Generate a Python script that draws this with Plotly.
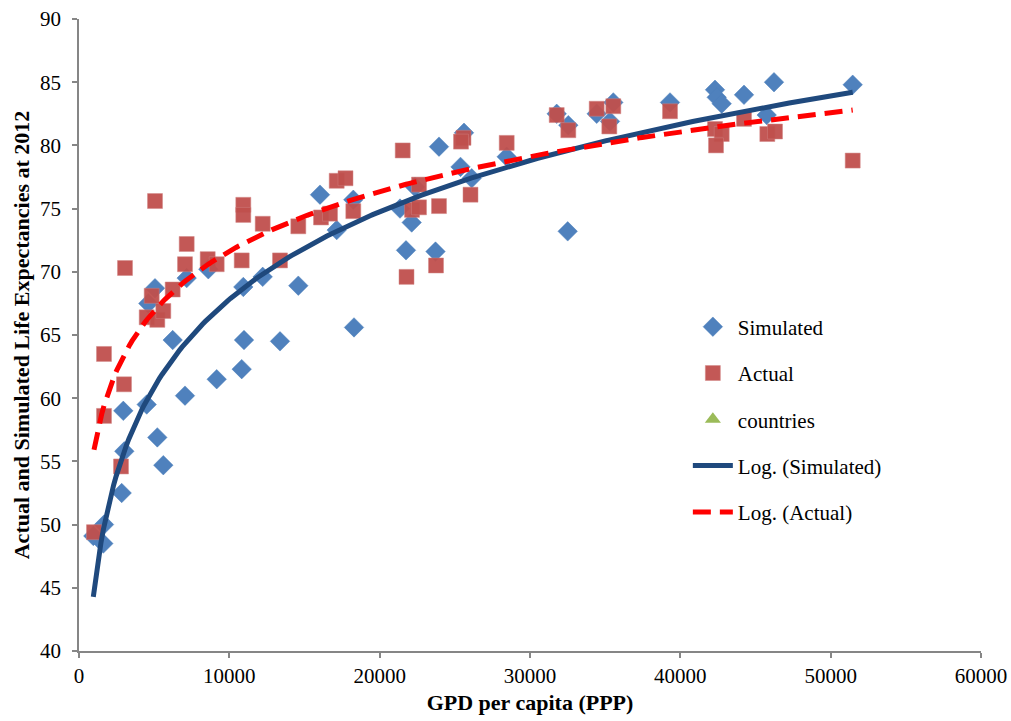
import numpy as np
import plotly.graph_objects as go

# ---- data ----
sim_gdp = [951, 1616, 1663, 2840, 3013, 2947, 4503, 5209, 5608, 7051, 9160, 10823, 10976,
           13371, 18293, 4610, 5056, 6233, 7164, 8601, 10929, 12220, 14588, 16031, 17142,
           18246, 21353, 22131, 22351, 21752, 23714, 23947, 25610, 25377, 26122, 28451,
           32508, 31777, 32548, 34437, 35542, 35322, 39313, 42307, 42420, 42752, 44236,
           46231, 45746, 51466]
sim_le = [49.1, 48.5, 50.0, 52.5, 55.8, 59.0, 59.5, 56.9, 54.7, 60.2, 61.5, 62.3, 64.6,
          64.5, 65.6, 67.5, 68.7, 64.6, 69.5, 70.2, 68.8, 69.6, 68.9, 76.1, 73.3,
          75.7, 75.0, 73.9, 76.7, 71.7, 71.6, 79.9, 81.0, 78.3, 77.4, 79.1,
          73.2, 82.5, 81.6, 82.5, 83.4, 81.9, 83.4, 84.4, 83.8, 83.3, 84.0,
          85.0, 82.4, 84.8]

act_gdp = [998, 1663, 2993, 1663, 2794, 3060, 4836, 4503, 5209, 5608, 6233, 5056, 7164,
           7051, 8561, 9160, 10929, 10929, 10823, 12220, 13371, 14588, 16098, 16697,
           17142, 17728, 18246, 21533, 22617, 22151, 22617, 23947, 21785, 23748, 26043,
           25577, 25411, 28451, 31777, 32548, 34437, 35542, 35276, 39313, 42307, 42752,
           42373, 44236, 45786, 46298, 51466]
act_le = [49.4, 63.5, 61.1, 58.6, 54.6, 70.3, 68.1, 66.4, 66.2, 66.9, 68.6, 75.6, 72.2,
          70.6, 71.0, 70.6, 75.3, 74.5, 70.9, 73.8, 70.9, 73.6, 74.3, 74.6,
          77.2, 77.4, 74.8, 79.6, 76.9, 74.9, 75.1, 75.2, 69.6, 70.5, 76.1,
          80.6, 80.3, 80.2, 82.4, 81.2, 82.9, 83.1, 81.5, 82.7, 81.3, 80.9,
          80.0, 82.1, 80.9, 81.1, 78.8]

x_ticks = [0, 10000, 20000, 30000, 40000, 50000, 60000]
y_ticks = [40, 45, 50, 55, 60, 65, 70, 75, 80, 85, 90]

FONT = "Liberation Serif"


def log_trend(xs, ys):
    xs = np.asarray(xs, float)
    ys = np.asarray(ys, float)
    a, b = np.polyfit(np.log(xs), ys, 1)
    xx = np.linspace(xs.min(), xs.max(), 300)
    return xx, a * np.log(xx) + b


fig = go.Figure()

fig.add_trace(go.Scatter(
    x=sim_gdp, y=sim_le, mode="markers", name="Simulated", legendgroup="a",
    marker=dict(symbol="diamond", size=15, color="#4F81BD",
                line=dict(width=0.5, color="#4A7EBB"))))
fig.add_trace(go.Scatter(
    x=act_gdp, y=act_le, mode="markers", name="Actual", legendgroup="b",
    marker=dict(symbol="square", size=15, color="#C0504D", opacity=0.95,
                line=dict(width=0.5, color="#D08080"))))
fig.add_trace(go.Scatter(
    x=[None], y=[None], mode="markers", name="countries", legendgroup="c",
    marker=dict(symbol="triangle-up", size=14, color="#9BBB59")))

sx, sy = log_trend(sim_gdp, sim_le)
fig.add_trace(go.Scatter(
    x=sx, y=sy, mode="lines", name="Log. (Simulated)", legendgroup="d",
    line=dict(color="#1F497D", width=5)))
ax, ay = log_trend(act_gdp, act_le)
fig.add_trace(go.Scatter(
    x=ax, y=ay, mode="lines", name="Log. (Actual)", legendgroup="e",
    line=dict(color="#FF0000", width=5, dash="18px,9px")))

fig.update_layout(
    width=1011, height=721,
    margin=dict(l=79, r=30, t=19, b=70),
    paper_bgcolor="white", plot_bgcolor="white",
    font=dict(family=FONT, size=21, color="black"),
    showlegend=True,
    legend=dict(x=0.675, y=0.545, xanchor="left", yanchor="top",
                bgcolor="rgba(0,0,0,0)", font=dict(family=FONT, size=21),
                tracegroupgap=16, itemwidth=40),
    xaxis=dict(range=[0, 60000], tickvals=x_ticks, tickformat="d",
               showgrid=False, zeroline=False, showline=True,
               linecolor="#868686", linewidth=1.5,
               ticks="outside", ticklen=5, tickcolor="#868686", tickwidth=1.5,
               tickfont=dict(family=FONT, size=21),
               ticklabeloverflow="allow",
               automargin=False,
               title=dict(text="<b>GPD per capita (PPP)</b>",
                          font=dict(family=FONT, size=22), standoff=8)),
    yaxis=dict(range=[40, 90], tickvals=y_ticks,
               showgrid=False, zeroline=False, showline=True,
               linecolor="#868686", linewidth=1.5,
               ticks="outside", ticklen=5, tickcolor="#868686", tickwidth=1.5,
               tickfont=dict(family=FONT, size=21),
               ticklabeloverflow="allow", ticklabelstandoff=7,
               automargin=False,
               title=dict(text="<b>Actual and Simulated Life Expectancies at 2012</b>",
                          font=dict(family=FONT, size=22), standoff=4)),
)

fig.write_html(
    "out.html",
    config={"displayModeBar": False},
    post_script="document.body.style.margin='0';document.body.style.overflow='hidden';",
)
